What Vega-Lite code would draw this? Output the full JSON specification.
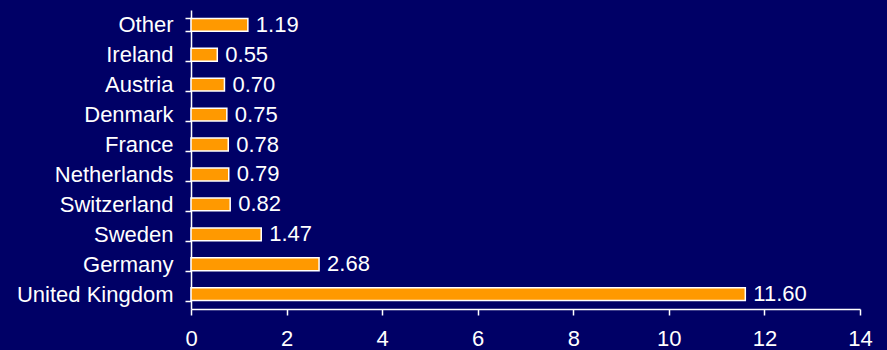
{
  "$schema": "https://vega.github.io/schema/vega-lite/v6.json",
  "autosize": "none",
  "width": 669,
  "height": 299,
  "padding": {"left": 191, "top": 10, "right": 27, "bottom": 41},
  "background": "#000066",
  "config": {
    "view": {"stroke": null},
    "font": "Liberation Sans",
    "axis": {"grid": false, "domainColor": "white", "tickColor": "white", "labelColor": "white", "labelFont": "Liberation Sans", "labelFontSize": 22, "domainWidth": 1.5, "tickWidth": 1.5}
  },
  "data": {"values": [
    {"country": "Other", "value": 1.19},
    {"country": "Ireland", "value": 0.55},
    {"country": "Austria", "value": 0.70},
    {"country": "Denmark", "value": 0.75},
    {"country": "France", "value": 0.78},
    {"country": "Netherlands", "value": 0.79},
    {"country": "Switzerland", "value": 0.82},
    {"country": "Sweden", "value": 1.47},
    {"country": "Germany", "value": 2.68},
    {"country": "United Kingdom", "value": 11.60}
  ]},
  "encoding": {
    "y": {"field": "country", "type": "nominal", "sort": null,
      "scale": {"paddingInner": 0.57, "paddingOuter": 0.28},
      "axis": {"title": null, "tickBand": "extent", "tickSize": 6, "labelPadding": 12}},
    "x": {"field": "value", "type": "quantitative",
      "scale": {"domain": [0, 14], "nice": false},
      "axis": {"title": null, "values": [0, 2, 4, 6, 8, 10, 12, 14], "tickSize": 6, "labelPadding": 13, "labelFlush": false}}
  },
  "layer": [
    {"mark": {"type": "bar", "color": "#FF9900", "stroke": "white", "strokeWidth": 1.5}},
    {"mark": {"type": "text", "align": "left", "dx": 8, "color": "white", "fontSize": 22, "font": "Liberation Sans"},
     "encoding": {"text": {"field": "value", "type": "quantitative", "format": ".2f"}}}
  ]
}
